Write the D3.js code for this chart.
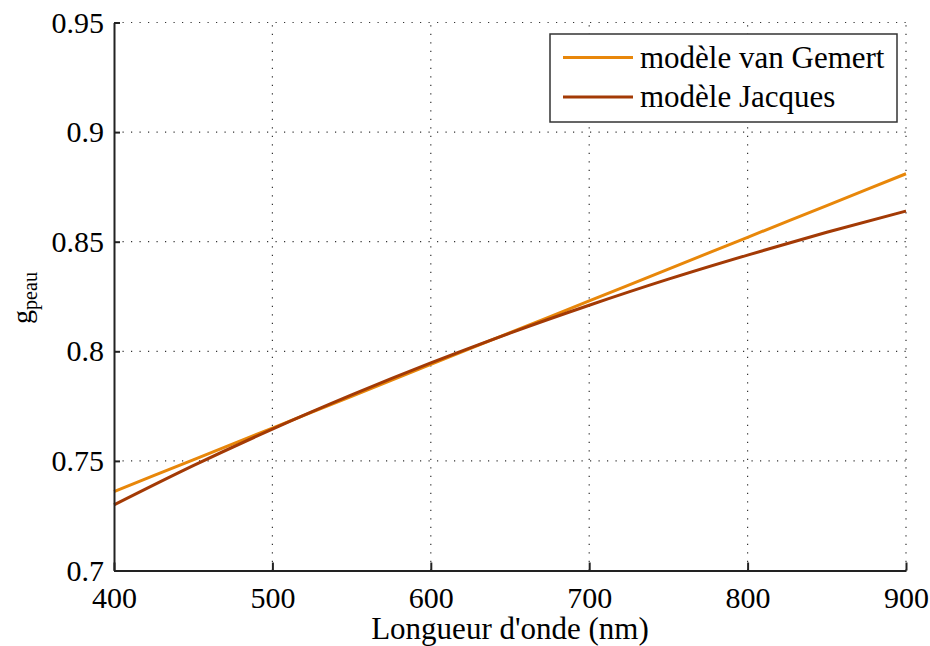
<!DOCTYPE html>
<html>
<head>
<meta charset="utf-8">
<script src="https://cdn.jsdelivr.net/npm/d3@7"></script>
<style>
  body { margin: 0; background: #fff; }
</style>
</head>
<body>
<div id="chart"></div>
<script>
// data
const wavelengths = [400, 450, 500, 550, 600, 650, 700, 750, 800, 850, 900];
const gemertValues = [0.736, 0.7505, 0.765, 0.7795, 0.794, 0.8085, 0.823, 0.8375, 0.852, 0.8665, 0.881];
const jacquesValues = [0.7299, 0.7478, 0.7645, 0.7801, 0.7947, 0.8083, 0.8210, 0.8329, 0.8439, 0.8543, 0.8640];
const xTicks = [400, 500, 600, 700, 800, 900];
const yTicks = [0.7, 0.75, 0.8, 0.85, 0.9, 0.95];
const seriesNames = ['modèle van Gemert', 'modèle Jacques'];
const seriesColors = ['#e8870a', '#a33a05'];

const FONT = '"Liberation Serif", "Times New Roman", serif';
const width = 930, height = 646;
const margin = {left: 114, right: 24, top: 22.5, bottom: 75.5};

const svg = d3.select('#chart').append('svg')
  .attr('width', width)
  .attr('height', height)
  .style('font-family', FONT);

const x = d3.scaleLinear().domain([400, 900]).range([margin.left, width - margin.right]);
const y = d3.scaleLinear().domain([0.7, 0.95]).range([height - margin.bottom, margin.top]);

// grid (dotted)
const grid = svg.append('g').attr('class', 'grid');
grid.selectAll('.gx')
  .data(xTicks.slice(1))
  .enter().append('line')
    .attr('x1', d => x(d)).attr('x2', d => x(d))
    .attr('y1', y(0.7)).attr('y2', y(0.95))
    .attr('stroke', '#333').attr('stroke-width', 1.2)
    .attr('stroke-dasharray', '1.2,7.3');
grid.selectAll('.gy')
  .data(yTicks.slice(1))
  .enter().append('line')
    .attr('x1', x(400)).attr('x2', x(900))
    .attr('y1', d => y(d)).attr('y2', d => y(d))
    .attr('stroke', '#333').attr('stroke-width', 1.2)
    .attr('stroke-dasharray', '1.2,7.3');

// lines
const line = d3.line().x(d => x(d[0])).y(d => y(d[1])).curve(d3.curveMonotoneX);
const series = [gemertValues, jacquesValues];
svg.selectAll('.series')
  .data(series)
  .enter().append('path')
    .attr('class', 'series')
    .attr('fill', 'none')
    .attr('stroke', (d, i) => seriesColors[i])
    .attr('stroke-width', 3)
    .attr('d', d => line(wavelengths.map((w, i) => [w, d[i]])));

// axes
const xAxis = d3.axisBottom(x).tickValues(xTicks).tickSizeInner(-8).tickSizeOuter(0).tickPadding(16);
const yAxis = d3.axisLeft(y).tickValues(yTicks).tickSizeInner(-6).tickSizeOuter(0).tickPadding(10)
  .tickFormat(d => String(+d.toFixed(2)));

function styleAxis(g) {
  g.attr('font-family', null).attr('font-size', 30);
  g.selectAll('text').attr('fill', '#000').style('font-family', FONT);
  g.selectAll('line, path').attr('stroke', '#222').attr('stroke-width', 2);
}

svg.append('g')
  .attr('transform', 'translate(0,' + y(0.7) + ')')
  .call(xAxis)
  .call(styleAxis);

svg.append('g')
  .attr('transform', 'translate(' + x(400) + ',0)')
  .call(yAxis)
  .call(styleAxis);

// axis labels
svg.append('text')
  .attr('x', (x(400) + x(900)) / 2)
  .attr('y', 639)
  .attr('text-anchor', 'middle')
  .attr('font-size', 31)
  .text("Longueur d'onde (nm)");

const ylab = svg.append('text')
  .attr('transform', 'translate(31,298) rotate(-90)')
  .attr('text-anchor', 'middle');
ylab.append('tspan').attr('font-size', 28).text('g');
ylab.append('tspan').attr('font-size', 20).attr('dy', 6).text('peau');

// legend
const legend = svg.append('g').attr('class', 'legend');
legend.append('rect')
  .attr('x', 550).attr('y', 34)
  .attr('width', 347).attr('height', 88)
  .attr('fill', '#fff')
  .attr('stroke', '#333').attr('stroke-width', 1.5);
const items = legend.selectAll('.item')
  .data(seriesNames)
  .enter().append('g')
    .attr('class', 'item')
    .attr('transform', (d, i) => 'translate(0,' + (57.5 + i * 39.5) + ')');
items.append('line')
  .attr('x1', 563).attr('x2', 633)
  .attr('stroke', (d, i) => seriesColors[i])
  .attr('stroke-width', 3);
items.append('text')
  .attr('x', 640)
  .attr('y', 10)
  .attr('font-size', 31)
  .text(d => d);
</script>
</body>
</html>
